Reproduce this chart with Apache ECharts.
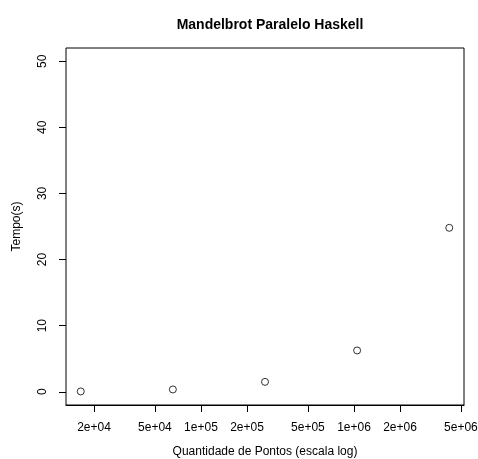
<!DOCTYPE html>
<html>
<head>
<meta charset="utf-8">
<script src="https://cdn.jsdelivr.net/npm/echarts@6/dist/echarts.min.js"></script>
<style>
  html, body { margin: 0; padding: 0; background: #fff; }
  #chart { width: 478px; height: 459px; }
</style>
</head>
<body>
<div id="chart"></div>
<script>
// Number of points computed (image sizes 128², 256², ... 2048²)
const pontos = [16384, 65536, 262144, 1048576, 4194304];
// Measured run time in seconds
const tempos = [0.05, 0.35, 1.5, 6.25, 24.8];

// Log-scale x ticks and their labels
const xTickValues = [2e4, 5e4, 1e5, 2e5, 5e5, 1e6, 2e6, 5e6];
const xTickLabels = ['2e+04', '5e+04', '1e+05', '2e+05', '5e+05', '1e+06', '2e+06', '5e+06'];
// Linear y ticks
const yTickValues = [0, 10, 20, 30, 40, 50];

const FONT = '"Liberation Sans", Arial, Helvetica, sans-serif';

// x axis works on log10 of the point count, padded by 4% like base R plots
const lx = pontos.map(v => Math.log10(v));
const lmin = Math.min(...lx), lmax = Math.max(...lx);
const pad = (lmax - lmin) * 0.04;
const xTicksLog = xTickValues.map(v => Math.log10(v));

// y limits 0..50, padded by 4%
const yMin = 0, yMax = 50, yPad = (yMax - yMin) * 0.04;

function xLabel(val) {
  let best = 0, bd = Infinity;
  xTicksLog.forEach((t, i) => { const d = Math.abs(t - val); if (d < bd) { bd = d; best = i; } });
  return xTickLabels[best];
}

const chart = echarts.init(document.getElementById('chart'), null, { renderer: 'canvas' });
chart.setOption({
  animation: false,
  backgroundColor: '#fff',
  title: {
    text: 'Mandelbrot Paralelo Haskell',
    left: 265, top: 13, textAlign: 'center',
    textStyle: { fontFamily: FONT, fontSize: 14, fontWeight: 'bold', color: '#000' }
  },
  grid: {
    left: 66, right: 14, top: 48, bottom: 54,
    outerBoundsMode: 'none', containLabel: false,
    show: true, borderColor: '#000', borderWidth: 1, backgroundColor: 'transparent'
  },
  xAxis: {
    type: 'value',
    position: 'bottom',
    min: lmin - pad, max: lmax + pad,
    name: 'Quantidade de Pontos (escala log)',
    nameLocation: 'middle', nameGap: 41,
    nameTextStyle: { fontFamily: FONT, fontSize: 12, color: '#000' },
    axisLine: { show: true, onZero: false, lineStyle: { color: '#000', width: 1 } },
    splitLine: { show: false },
    axisTick: { show: true, inside: false, length: 7, customValues: xTicksLog, lineStyle: { color: '#000' } },
    axisLabel: {
      customValues: xTicksLog, margin: 17, hideOverlap: false,
      fontFamily: FONT, fontSize: 12, color: '#000',
      formatter: v => xLabel(v)
    }
  },
  yAxis: {
    type: 'value',
    min: yMin - yPad, max: yMax + yPad,
    name: 'Tempo(s)',
    nameLocation: 'middle', nameGap: 43,
    nameTextStyle: { fontFamily: FONT, fontSize: 12, color: '#000' },
    axisLine: { show: false, onZero: false },
    splitLine: { show: false },
    axisTick: { show: true, inside: false, length: 7, customValues: yTickValues, lineStyle: { color: '#000' } },
    axisLabel: {
      customValues: yTickValues, rotate: 90, margin: 17,
      fontFamily: FONT, fontSize: 12, color: '#000'
    }
  },
  series: [{
    type: 'scatter',
    data: pontos.map((p, i) => [Math.log10(p), tempos[i]]),
    symbol: 'circle',
    symbolSize: 7,
    itemStyle: { color: 'rgba(255,255,255,0)', borderColor: '#000', borderWidth: 1 }
  }]
});
</script>
</body>
</html>
